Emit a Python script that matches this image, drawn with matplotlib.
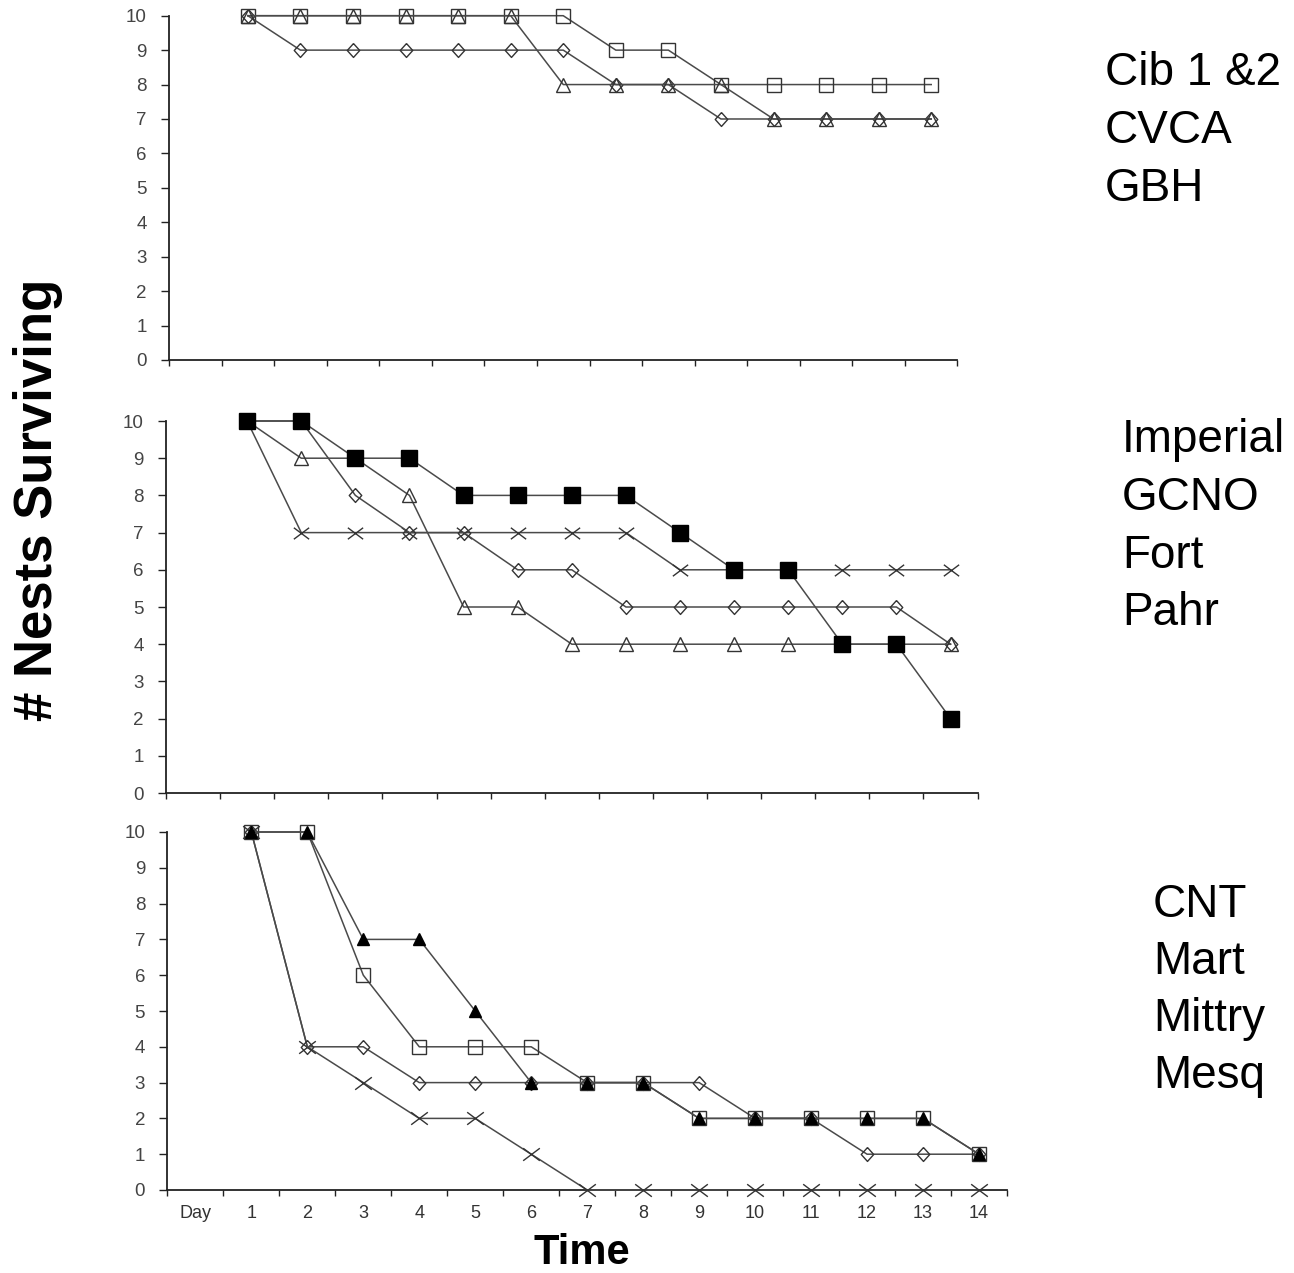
import matplotlib
matplotlib.use('Agg')
import matplotlib.pyplot as plt
from matplotlib.path import Path

plt.rcParams['font.family'] = ['Liberation Sans', 'DejaVu Sans']

day_labels = ['Day', '1', '2', '3', '4', '5', '6', '7', '8', '9', '10', '11', '12', '13', '14']
day_nums = list(range(1, 15))

# top panel
top_names = ['Cib 1 &2', 'CVCA', 'GBH']
top_diamond = [10, 9, 9, 9, 9, 9, 9, 8, 8, 7, 7, 7, 7, 7]
top_square = [10, 10, 10, 10, 10, 10, 10, 9, 9, 8, 8, 8, 8, 8]
top_triangle = [10, 10, 10, 10, 10, 10, 8, 8, 8, 8, 7, 7, 7, 7]

# middle panel
mid_names = ['Imperial', 'GCNO', 'Fort', 'Pahr']
mid_diamond = [10, 10, 8, 7, 7, 6, 6, 5, 5, 5, 5, 5, 5, 4]
mid_triangle = [10, 9, 9, 8, 5, 5, 4, 4, 4, 4, 4, 4, 4, 4]
mid_cross = [10, 7, 7, 7, 7, 7, 7, 7, 6, 6, 6, 6, 6, 6]
mid_square_filled = [10, 10, 9, 9, 8, 8, 8, 8, 7, 6, 6, 4, 4, 2]

# bottom panel
bot_names = ['CNT', 'Mart', 'Mittry', 'Mesq']
bot_diamond = [10, 4, 4, 3, 3, 3, 3, 3, 3, 2, 2, 1, 1, 1]
bot_square = [10, 10, 6, 4, 4, 4, 3, 3, 2, 2, 2, 2, 2, 1]
bot_triangle_filled = [10, 10, 7, 7, 5, 3, 3, 3, 2, 2, 2, 2, 2, 1]
bot_cross = [10, 4, 3, 2, 2, 1, 0, 0, 0, 0, 0, 0, 0, 0]

W, H = 1294, 1273

DIAMOND = [(0, 1), (0.9, 0), (0, -1), (-0.9, 0), (0, 1)]
CROSS = Path([(-1, -0.75), (1, 0.75), (-1, 0.75), (1, -0.75)],
             [Path.MOVETO, Path.LINETO, Path.MOVETO, Path.LINETO])


def make_axes(fig, left, right, y0, y10, show_labels):
    ax = fig.add_axes([left / W, 1 - y0 / H, (right - left) / W, (y0 - y10) / H])
    ax.set_xlim(-0.5, 14.5)
    ax.set_ylim(0, 10)
    for side in ['top', 'right']:
        ax.spines[side].set_visible(False)
    for side in ['left', 'bottom']:
        ax.spines[side].set_color('#222222')
        ax.spines[side].set_linewidth(1.3)
    ax.set_yticks(range(0, 11))
    ax.tick_params(axis='y', length=6, width=1.0, color='#222222', pad=10,
                   labelsize=13.5, labelcolor='#444444')
    ax.set_xticks([i - 0.5 for i in range(16)])
    ax.set_xticklabels([])
    ax.tick_params(axis='x', which='major', length=4, width=1.0, color='#222222')
    if show_labels:
        ax.set_xticks(range(15), minor=True)
        ax.set_xticklabels(day_labels, minor=True)
        ax.tick_params(axis='x', which='minor', length=0, pad=11,
                       labelsize=13, labelcolor='#333333')
    return ax


def series(ax, values, marker, ms, filled=False):
    ax.plot(day_nums, values, color='#4a4a4a', lw=1.1, marker=marker, ms=ms,
            mfc='black' if filled else 'none', mec='black' if filled else '#333333',
            mew=1.0, clip_on=False, zorder=3)


def names(fig, labels, x, baselines):
    for lab, y in zip(labels, baselines):
        fig.text(x / W, 1 - y / H, lab, fontsize=33, va='baseline', ha='left')


def main():
    fig = plt.figure(figsize=(W / 100, H / 100), dpi=100)

    ax = make_axes(fig, 169, 957.5, 360, 15.7, False)
    series(ax, top_square, 's', 9.5)
    series(ax, top_diamond, DIAMOND, 10)
    series(ax, top_triangle, '^', 10)
    names(fig, top_names, 1105, [85, 143, 201])

    ax = make_axes(fig, 166, 977.6, 793, 421, False)
    series(ax, mid_cross, CROSS, 11)
    series(ax, mid_diamond, DIAMOND, 10)
    series(ax, mid_triangle, '^', 10)
    series(ax, mid_square_filled, 's', 11.5, filled=True)
    names(fig, mid_names, 1122, [452, 510, 568, 625])

    ax = make_axes(fig, 167.4, 1007, 1190, 832, True)
    series(ax, bot_cross, CROSS, 12)
    series(ax, bot_diamond, DIAMOND, 10)
    series(ax, bot_square, 's', 9.5)
    series(ax, bot_triangle_filled, '^', 8.5, filled=True)
    names(fig, bot_names, 1153, [917, 974, 1031, 1088])

    fig.text(38 / W, 1 - 500 / H, '# Nests Surviving', rotation=90, fontsize=38,
             fontweight='bold', ha='center', va='center')
    fig.text(582 / W, 1 - 1264 / H, 'Time', fontsize=30, fontweight='bold',
             ha='center', va='baseline')

    fig.savefig('out.png', dpi=100)


if __name__ == '__main__':
    main()
